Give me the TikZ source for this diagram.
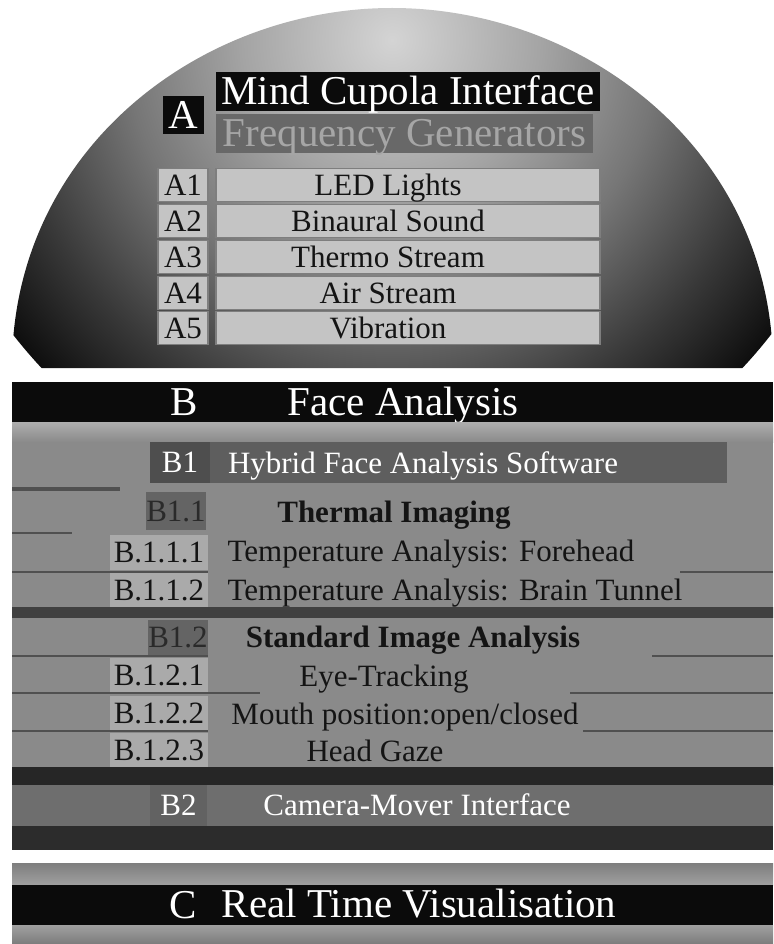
\documentclass[tikz,border=0pt]{standalone}
\usepackage{fontspec}
\setmainfont{Liberation Serif}
\newcommand\myfs[1]{\fontsize{#1}{#1}\selectfont}
\definecolor{rowA}{HTML}{C4C4C4}
\definecolor{rowAedge}{HTML}{7E7E7E}
\definecolor{bgB}{HTML}{8A8A8A}
\definecolor{lightB}{HTML}{AEAEAE}
\definecolor{darkrow}{HTML}{5E5E5E}
\definecolor{darklab}{HTML}{4E4E4E}
\definecolor{blurlab}{HTML}{646464}
\definecolor{lab}{HTML}{AAAAAA}
\definecolor{band}{HTML}{2C2C2C}
\definecolor{lineB}{HTML}{505050}
\definecolor{freqfill}{HTML}{686868}
\definecolor{freqtext}{HTML}{A6A6A6}
\definecolor{ink}{HTML}{141414}
\definecolor{blurink}{HTML}{2A2A2A}
\definecolor{camrow}{HTML}{6E6E6E}
\definecolor{camlab}{HTML}{626262}
\definecolor{nearblack}{HTML}{0B0B0B}
\definecolor{dA}{HTML}{D4D4D4}
\definecolor{dB}{HTML}{A4A4A4}
\definecolor{dC}{HTML}{767676}
\definecolor{dD}{HTML}{383838}
\definecolor{dE}{HTML}{0E0E0E}
\definecolor{gA}{HTML}{404040}
\definecolor{gB}{HTML}{7E7E7E}
\definecolor{gC}{HTML}{262626}
\definecolor{gD}{HTML}{555555}
\definecolor{cTop}{HTML}{7E7E7E}
\definecolor{cMid}{HTML}{A0A0A0}
\definecolor{cLow}{HTML}{7C7C7C}
\pgfdeclareradialshading{domeshade}{\pgfpoint{0bp}{0bp}}{color(0bp)=(dA); color(7.8bp)=(dB); color(13.9bp)=(dC); color(20.3bp)=(dD); color(25bp)=(dE); color(50bp)=(dE)}
\begin{document}
\begin{tikzpicture}[x=1pt,y=-1pt,
  t31/.style={text height=20.5pt, text depth=0pt, font=\myfs{31}},
  t41/.style={text height=27pt, text depth=0pt, font=\myfs{41}},
  txt/.style={inner sep=0pt, t31, text=ink},
  bigtxt/.style={inner sep=0pt, t41, text=white},
  abox/.style={draw=rowAedge, line width=1.2pt, fill=rowA, inner sep=0pt, minimum height=33pt, t31, text=ink},
  blab/.style={fill=lab, inner sep=0pt, t31, text=ink},
  bdark/.style={fill=blurlab, inner sep=0pt, t31, text=blurink},
]
\useasboundingbox (0,0) rectangle (773,944);
\fill[white] (0,0) rectangle (773,944);

% ---------- A : dome ----------
\begin{scope}
\clip (12,368) .. controls (12,150) and (200,8) .. (392,8) .. controls (584,8) and (773,150) .. (773,368) -- cycle;
\shade[shading=domeshade] (392,40) circle[radius=480];
\end{scope}

\node[fill=nearblack, inner sep=0pt, minimum width=41pt, minimum height=38pt,
      t41, text=white] (A) at (183.5,115) {A};
\node[fill=nearblack, inner sep=0pt, minimum width=384pt, minimum height=39pt,
      t41, text=white] (mci) at (408,91.5) {Mind Cupola Interface};
\node[fill=freqfill, inner sep=0pt, minimum width=377pt, minimum height=39pt,
      t41, text=freqtext] (fg) at (404.5,133.5) {Frequency Generators};

\foreach \n/\yy/\t in {1/185/LED Lights, 2/221/Binaural Sound, 3/257/Thermo Stream, 4/293/Air Stream, 5/328/Vibration}{
  \node[abox, minimum width=50pt] (a\n l) at (183,\yy) {A\n};
  \node[abox, minimum width=384pt] (a\n b) at (408,\yy) {};
  \node[txt] (a\n t) at (388,\yy) {\t};
}

% ---------- B : face analysis ----------
\fill[bgB] (12,422) rectangle (773,850);
\fill[nearblack] (12,382) rectangle (773,422);
\node[bigtxt] (B) at (184,402) {B};
\node[bigtxt] (fa) at (403,402) {Face Analysis};

\shade[top color=lightB, bottom color=bgB] (12,422) rectangle (773,442);

% B1
\node[fill=darkrow, inner sep=0pt, minimum width=517pt, minimum height=41pt] (b1bar) at (468.5,462.5) {};
\node[fill=darklab, inner sep=0pt, minimum width=60pt, minimum height=41pt,
      t31, text=white] (b1l) at (180,462.5) {B1};
\node[txt, text=white] (b1t) at (423,463) {Hybrid Face Analysis Software};

\fill[lineB] (12,487) rectangle (120,491);

% B1.1
\node[bdark, minimum width=56pt, minimum height=38pt] (b11l) at (176,511) {B1.1};
\node[txt, font=\bfseries\myfs{31}] (b11t) at (394,512) {Thermal Imaging};

\fill[lineB] (12,532) rectangle (72,534);

% B.1.1.1
\node[blab, minimum width=98pt, minimum height=35pt] (b111l) at (159,552) {B.1.1.1};
\node[txt] (b111t) at (431,551) {Temperature Analysis: Forehead};

\fill[lineB] (12,570.5) rectangle (208,572.5);
\fill[lineB] (680,570.5) rectangle (773,572.5);

% B.1.1.2
\node[blab, minimum width=98pt, minimum height=34pt] (b112l) at (159,590) {B.1.1.2};
\node[txt] (b112t) at (455,590) {Temperature Analysis: Brain Tunnel};

\shade[left color=gA, middle color=gB, right color=gA] (12,607) rectangle (773,617);

% B1.2
\node[bdark, minimum width=57pt, minimum height=35pt] (b12l) at (178,637) {B1.2};
\node[txt, font=\bfseries\myfs{31}] (b12t) at (413,637) {Standard Image Analysis};

\fill[lineB] (12,655) rectangle (208,657);
\fill[lineB] (652,655) rectangle (773,657);

% B.1.2.1
\node[blab, minimum width=98pt, minimum height=35pt] (b121l) at (159,675) {B.1.2.1};
\node[txt] (b121t) at (384,676) {Eye-Tracking};

\fill[lineB] (12,692) rectangle (260,694);
\fill[lineB] (570,692) rectangle (773,694);

% B.1.2.2
\node[blab, minimum width=98pt, minimum height=35pt] (b122l) at (159,713) {B.1.2.2};
\node[txt] (b122t) at (405,714) {Mouth position:open/closed};

\fill[lineB] (12,730) rectangle (208,732);
\fill[lineB] (583,730) rectangle (773,732);

% B.1.2.3
\node[blab, minimum width=98pt, minimum height=34pt] (b123l) at (159,750) {B.1.2.3};
\node[txt] (b123t) at (375,751) {Head Gaze};

\shade[left color=gC, middle color=gD, right color=gC] (12,767) rectangle (773,785);

% B2
\fill[camrow] (12,785) rectangle (773,826);
\node[fill=camlab, inner sep=0pt, minimum width=57pt, minimum height=41pt,
      t31, text=white] (b2l) at (178.5,805.5) {B2};
\node[txt, text=white] (b2t) at (417,805) {Camera-Mover Interface};
\fill[band] (12,826) rectangle (773,850);

% ---------- C : real time visualisation ----------
\shade[top color=cTop, bottom color=cMid] (12,863) rectangle (773,885);
\fill[nearblack] (12,885) rectangle (773,925);
\shade[top color=cMid, bottom color=cLow] (12,925) rectangle (773,944);
\node[bigtxt] (C) at (183,905) {C};
\node[bigtxt] (rtv) at (419,904) {Real Time Visualisation};
\end{tikzpicture}
\end{document}
